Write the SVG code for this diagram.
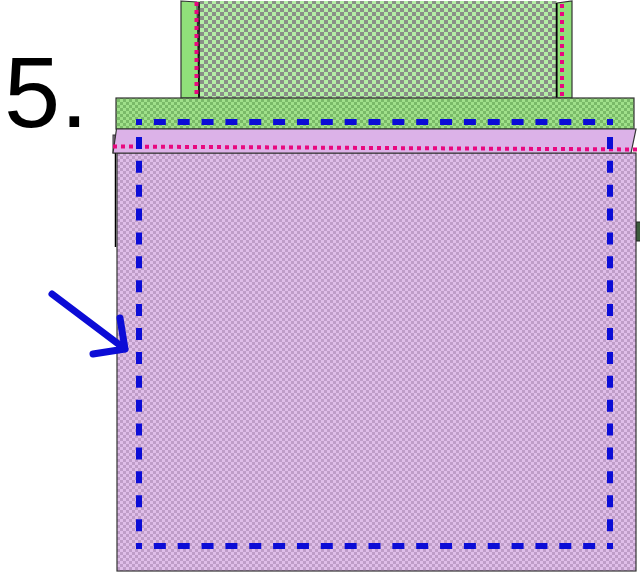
<svg xmlns="http://www.w3.org/2000/svg" width="640" height="572" viewBox="0 0 640 572">
<defs>
<pattern id="pPurple" patternUnits="userSpaceOnUse" width="6" height="6">
<rect width="6" height="6" fill="#e0bee9"/>
<rect width="3" height="3" fill="#bf9dc8"/>
<rect x="3" y="3" width="3" height="3" fill="#bf9dc8"/>
</pattern>
<pattern id="pGreenTop" patternUnits="userSpaceOnUse" width="8" height="8">
<rect width="8" height="8" fill="#b4eea6"/>
<rect width="4" height="4" fill="#8a9088"/>
<rect x="4" y="4" width="4" height="4" fill="#8a9088"/>
</pattern>
<pattern id="pGreenBand" patternUnits="userSpaceOnUse" width="6" height="6">
<rect width="6" height="6" fill="#a0e08a"/>
<rect width="3" height="3" fill="#7aba68"/>
<rect x="3" y="3" width="3" height="3" fill="#7aba68"/>
</pattern>
<style>
.edge{stroke:#333;stroke-width:1.2}
.pinkdot{stroke:#e8087f;stroke-width:4;stroke-dasharray:4 4;fill:none}
.blue{stroke:#0c0cd6;stroke-width:6;fill:none}
.arrow{stroke:#0c0cd6;stroke-width:7;fill:none;stroke-linecap:round;stroke-linejoin:round}
</style>
</defs>
<text x="4" y="127" font-family="Liberation Sans, Arial, sans-serif" font-size="101" fill="#000">5.</text>
<g id="top-fabric">
<rect x="198" y="1" width="359" height="98" fill="url(#pGreenTop)"/>
<polygon points="181,1 197,2 199,98 181,98" fill="#90e07a" class="edge"/>
<polygon points="557,3 572,1 572,98 557,98" fill="#90e07a" class="edge"/>
<line x1="199" y1="2" x2="199" y2="98" stroke="#000" stroke-width="1.5"/>
<line x1="556.5" y1="3" x2="556.5" y2="98" stroke="#000" stroke-width="1.5"/>
<line x1="196.5" y1="2" x2="196.5" y2="98" class="pinkdot"/>
<line x1="562" y1="4" x2="562" y2="98" class="pinkdot"/>
</g>
<g id="back-piece">
<rect x="113" y="135" width="3" height="18" fill="#9a8aa0" stroke="#333" stroke-width="1"/>
<line x1="115.5" y1="135" x2="115.5" y2="247" stroke="#000" stroke-width="1.5"/>
<rect x="636" y="222" width="5" height="19" fill="#3c5c3c" stroke="#222" stroke-width="1"/>
</g>
<g id="green-band">
<rect x="116" y="98" width="518" height="31" fill="url(#pGreenBand)" class="edge"/>
</g>
<g id="main-fabric">
<rect x="117" y="153" width="519" height="418" fill="url(#pPurple)" class="edge"/>
</g>
<g id="pink-band">
<polygon points="116.5,129 636,129 631,153 113,153" fill="#dcb2e8" class="edge"/>
</g>
<g id="connectors">
<line x1="113" y1="146.5" x2="640" y2="149.5" class="pinkdot"/>
<line x1="136" y1="122" x2="613" y2="122" class="blue" stroke-dasharray="12 11.85" stroke-dashoffset="6"/>
<line x1="136" y1="546" x2="613" y2="546" class="blue" stroke-dasharray="12 11.85" stroke-dashoffset="6"/>
<line x1="139" y1="119" x2="139" y2="549" class="blue" stroke-dasharray="12 11.89" stroke-dashoffset="6"/>
<line x1="610" y1="119" x2="610" y2="549" class="blue" stroke-dasharray="12 11.89" stroke-dashoffset="6"/>
<path d="M52,294 L125,349 M120,318 L125,349 L93,354" class="arrow"/>
</g>
</svg>
